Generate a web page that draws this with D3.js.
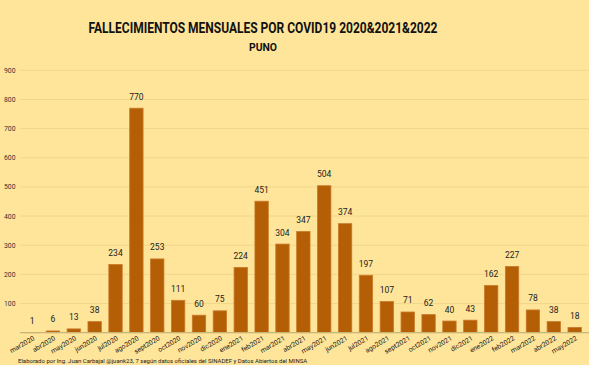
<!DOCTYPE html>
<html><head><meta charset="utf-8">
<script src="https://cdn.jsdelivr.net/npm/d3@7"></script>
<style>html,body{margin:0;padding:0;background:#FFE599;}svg{display:block;}</style>
</head><body>
<script>
const months = ["mar2020","abr2020","may2020","jun2020","jul2020","ago2020","sept2020","oct2020","nov2020","dic2020",
"ene2021","feb2021","mar2021","abr2021","may2021","jun2021","jul2021","ago2021","sept2021","oct2021","nov2021","dic2021",
"ene2022","feb2022","mar2022","abr2022","may2022"];
const deaths = [1,6,13,38,234,770,253,111,60,75,224,451,304,347,504,374,197,107,71,62,40,43,162,227,78,38,18];
const yTicks = [100,200,300,400,500,600,700,800,900];

const W=589,H=365;
const svg=d3.select("body").append("svg").attr("width",W).attr("height",H);
svg.append("rect").attr("width",W).attr("height",H).attr("fill","#FFE599");

const x=d3.scaleBand().domain(months).range([21.6,585.1]).paddingInner(0.36).paddingOuter(0.18);
const y=d3.scaleLinear().domain([0,900]).range([332.7,70.3]);

svg.append("text").attr("x",263).attr("y",33).attr("text-anchor","middle")
 .attr("font-family","Roboto").attr("font-weight","bold").attr("font-size",14.5).attr("fill","#111")
 .attr("textLength",349).attr("lengthAdjust","spacingAndGlyphs")
 .text("FALLECIMIENTOS MENSUALES POR COVID19 2020&2021&2022");
svg.append("text").attr("x",263).attr("y",51).attr("text-anchor","middle")
 .attr("font-family","Roboto").attr("font-weight","bold").attr("font-size",11).attr("fill","#111")
 .attr("textLength",28).attr("lengthAdjust","spacingAndGlyphs")
 .text("PUNO");

// grid
svg.append("g").selectAll("line").data(yTicks).join("line")
 .attr("x1",20).attr("x2",589).attr("y1",d=>y(d)).attr("y2",d=>y(d))
 .attr("stroke","#EFD68B").attr("stroke-width",1);
svg.append("g").selectAll("text").data(yTicks).join("text")
 .attr("x",4).attr("y",d=>y(d)+2.5).attr("font-family","Roboto").attr("font-size",6.8)
 .attr("fill","#333").text(d=>d);

// bars
svg.append("g").selectAll("rect").data(deaths).join("rect")
 .attr("x",(d,i)=>x(months[i])).attr("width",x.bandwidth())
 .attr("y",d=>y(d)).attr("height",d=>y(0)-y(d))
 .attr("fill","#B45F06").attr("stroke","#C9782A").attr("stroke-width",0.8);

// baseline
svg.append("line").attr("x1",20).attr("x2",589).attr("y1",y(0)).attr("y2",y(0))
 .attr("stroke","#C8B57A").attr("stroke-width",1.2);

// value labels
svg.append("g").selectAll("text").data(deaths).join("text")
 .attr("x",(d,i)=>x(months[i])+x.bandwidth()/2).attr("y",d=>y(d)-8.5)
 .attr("text-anchor","middle").attr("font-family","Roboto").attr("font-size",8.5)
 .attr("fill","#222").text(d=>d);

// x labels
svg.append("g").selectAll("text").data(months).join("text")
 .attr("transform",d=>`translate(${x(d)+x.bandwidth()/2+3},${y(0)+7}) rotate(-30)`)
 .attr("text-anchor","end").attr("font-family","Roboto").attr("font-size",6.8)
 .attr("fill","#222").text(d=>d);

svg.append("text").attr("x",18).attr("y",362.5).attr("font-family","Roboto").attr("font-size",6)
 .attr("fill","#222")
 .text("Elaborado por Ing. Juan Carbajal @juank23, 7 según datos oficiales del SINADEF y Datos Abiertos del MINSA");
</script>
</body></html>
